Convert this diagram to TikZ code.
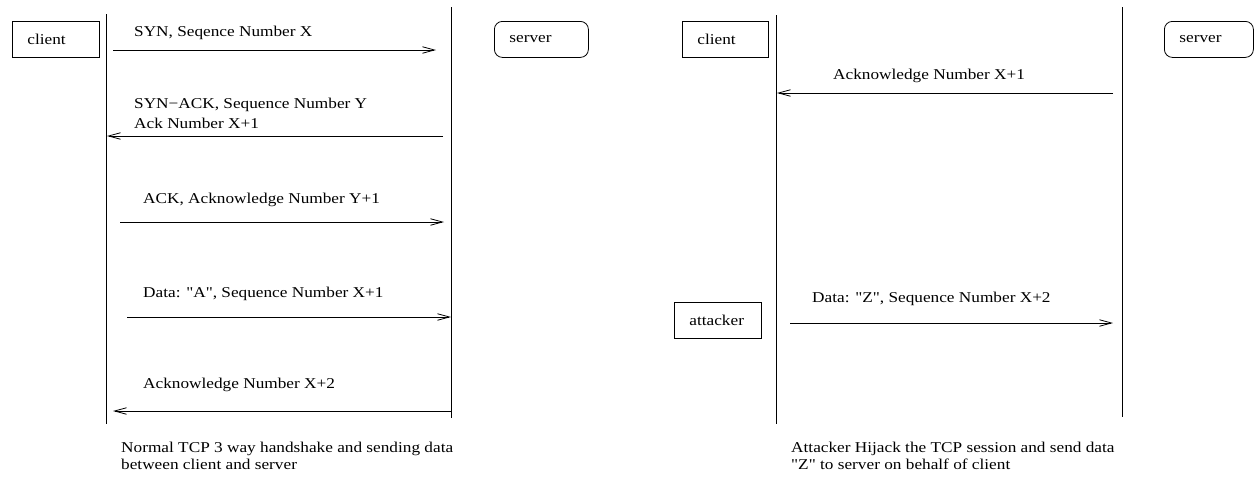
\documentclass[tikz,border=0pt]{standalone}
\usepackage{fontspec}
\setmainfont{Liberation Serif}[FakeStretch=1.15, Ligatures=TeXOff]
\usetikzlibrary{arrows.meta}

\begin{document}
\begin{tikzpicture}[
		x=1pt, y=-1pt,
		every node/.style = {font=\fontsize{15pt}{17pt}\selectfont},
		box/.style    = {draw, line width=0.8pt, anchor=north west, minimum height=36pt, inner xsep=15pt, inner ysep=0pt, text width=57pt, align=left},
		roundbox/.style = {box, rounded corners=8pt},
		lifeline/.style = {line width=0.8pt},
		msg/.style    = {line width=0.8pt, -{Straight Barb[length=12pt,width=6.5pt]}},
		lbl/.style    = {anchor=base west, inner sep=0pt, align=left}]
		
		\useasboundingbox (0,0) rectangle (1254,477);
		
		% left side, normal session
		\node[box] (client1) at (12,21) {client};
		\node[roundbox, text width=64pt] (server1) at (494,21) {server};
		
		\coordinate (cl1top) at (106,14);  \coordinate (cl1bot) at (106,424);
		\coordinate (sv1top) at (451,7);   \coordinate (sv1bot) at (451,418);
		\draw[lifeline] (cl1top) -- (cl1bot);
		\draw[lifeline] (sv1top) -- (sv1bot);
		
		% right side, hijacked session
		\node[box, text width=56pt] (client2) at (682,21) {client};
		\node[roundbox, text width=59pt] (server2) at (1164,21) {server};
		\node[box] (attacker) at (674,302) {attacker};
		
		\coordinate (cl2top) at (776,15);  \coordinate (cl2bot) at (776,424);
		\coordinate (sv2top) at (1122,7);  \coordinate (sv2bot) at (1122,417);
		\draw[lifeline] (cl2top) -- (cl2bot);
		\draw[lifeline] (sv2top) -- (sv2bot);
		
		% messages, start and end of every arrow
		\foreach \i/\xa/\xb/\y in {1/113/436/50, 2/443/107/136, 3/120/444/222, 4/127/451/317, 5/451/113/411, 6/1113/777/93, 7/790/1113/323}{
			\coordinate (s\i) at (\xa,\y);
			\coordinate (e\i) at (\xb,\y);
			\draw[msg] (s\i) -- (e\i);
		}
		
		% labels of the messages (base of the last line)
		\begin{scope}[every node/.append style={lbl}]
		\node (lab1) at (134,36) {SYN, Seqence Number X};
		\node (lab2) at (134,128) {SYN−ACK, Sequence Number Y\\[3pt]Ack Number X+1};
		\node (lab3) at (143,203) {ACK, Acknowledge Number Y+1};
		\node (lab4) at (143,297) {Data: "A", Sequence Number X+1};
		\node (lab5) at (143,388) {Acknowledge Number X+2};
		
		\node (lab6) at (833,79) {Acknowledge Number X+1};
		\node (lab7) at (812,302) {Data: "Z", Sequence Number X+2};
		
		% captions under both sides
		\node (cap1) at (121,469) {Normal TCP 3 way handshake and sending data\\between client and server};
		\node (cap2) at (791,469) {Attacker Hijack the TCP session and send data\\"Z" to server on behalf of client};
		\end{scope}
		
	\end{tikzpicture}
\end{document}
